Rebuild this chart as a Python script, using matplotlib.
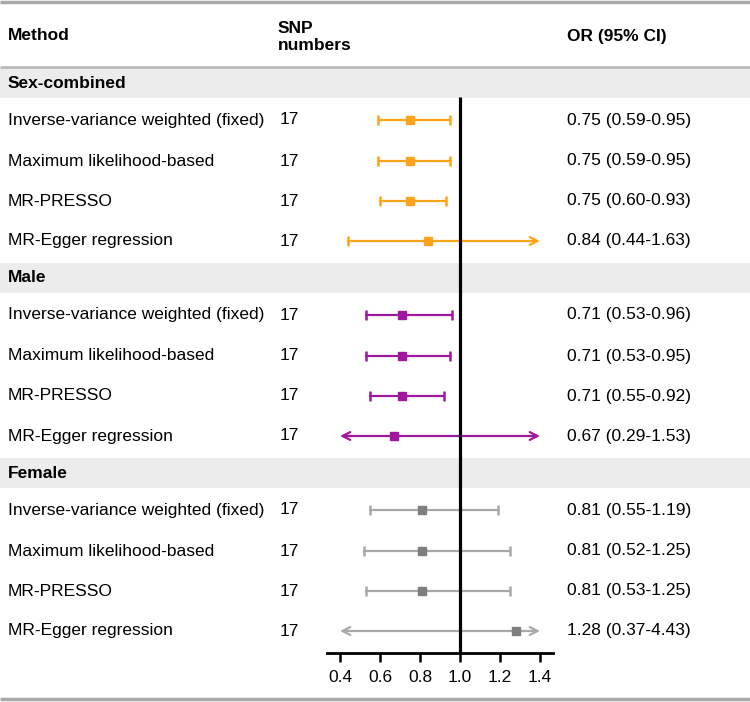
import matplotlib
matplotlib.use("Agg")
import matplotlib.pyplot as plt

plt.rcParams['font.family'] = ['Liberation Sans', 'DejaVu Sans']

groups = ["Sex-combined", "Male", "Female"]
methods = ["Inverse-variance weighted (fixed)", "Maximum likelihood-based",
           "MR-PRESSO", "MR-Egger regression"]
snp_numbers = [17, 17, 17, 17]
or_est = [[0.75, 0.75, 0.75, 0.84],
          [0.71, 0.71, 0.71, 0.67],
          [0.81, 0.81, 0.81, 1.28]]
ci_low = [[0.59, 0.59, 0.60, 0.44],
          [0.53, 0.53, 0.55, 0.29],
          [0.55, 0.52, 0.53, 0.37]]
ci_high = [[0.95, 0.95, 0.93, 1.63],
           [0.96, 0.95, 0.92, 1.53],
           [1.19, 1.25, 1.25, 4.43]]
group_line_colors = ["#FFA31A", "#A0179F", "#A8A8A8"]
group_marker_colors = ["#FFA31A", "#A0179F", "#7F7F7F"]
x_ticks = [0.4, 0.6, 0.8, 1.0, 1.2, 1.4]

W, H = 750, 702
fig = plt.figure(figsize=(W / 100, H / 100), dpi=100)

# overlay axes in pixel coordinates (text, bands, rules)
bg = fig.add_axes([0, 0, 1, 1])
bg.set_xlim(0, W)
bg.set_ylim(H, 0)
bg.axis('off')

# forest axes
ax_left, ax_right, ax_bottom_px = 327, 553, 653
ax = fig.add_axes([ax_left / W, (H - ax_bottom_px) / H, (ax_right - ax_left) / W, ax_bottom_px / H])
ax.set_facecolor('none')
ax.set_xlim(0.335, 1.465)
ax.set_ylim(ax_bottom_px, 0)

fs = 12.5
# rules
bg.plot([0, W], [2, 2], color='#A9A9A9', lw=2.5, solid_capstyle='butt')
bg.plot([0, W], [67, 67], color='#B5B5B5', lw=1.8, solid_capstyle='butt')
bg.plot([0, W], [698.5, 698.5], color='#A9A9A9', lw=2.5, solid_capstyle='butt')

# headers
bg.text(8, 36, "Method", fontsize=fs, fontweight='bold', va='center', ha='left')
bg.text(278, 37, "SNP\nnumbers", fontsize=fs, fontweight='bold', va='center', ha='left', linespacing=1.2)
bg.text(567, 36, "OR (95% CI)", fontsize=fs, fontweight='bold', va='center', ha='left')

group_top, group_pitch = 83, 195
row_offsets = [37, 78, 118, 158]
band_h = 30
lo_lim, hi_lim = 0.4, 1.4
for g, gname in enumerate(groups):
    yh = group_top + group_pitch * g
    bg.add_patch(plt.Rectangle((0, yh - band_h / 2), W, band_h, color='#ECECEC', lw=0, zorder=0))
    bg.text(8, yh, gname, fontsize=fs, fontweight='bold', va='center', ha='left')
    for m, meth in enumerate(methods):
        y = yh + row_offsets[m]
        bg.text(8, y, meth, fontsize=fs, va='center', ha='left')
        bg.text(280, y, str(snp_numbers[m]), fontsize=fs, va='center', ha='left')
        e, lo, hi = or_est[g][m], ci_low[g][m], ci_high[g][m]
        bg.text(567, y, f"{e:.2f} ({lo:.2f}-{hi:.2f})", fontsize=fs, va='center', ha='left')
        lc, mc = group_line_colors[g], group_marker_colors[g]
        left_arrow = lo < lo_lim
        right_arrow = hi > hi_lim
        xl = lo_lim if left_arrow else lo
        xr = hi_lim if right_arrow else hi
        style = {(True, True): '<->', (False, True): '->', (True, False): '<-', (False, False): '-'}[(left_arrow, right_arrow)]
        ax.annotate('', xy=(xr, y), xytext=(xl, y),
                    arrowprops=dict(arrowstyle=style, color=lc, lw=1.6, shrinkA=0, shrinkB=0,
                                    mutation_scale=14), zorder=3)
        if not left_arrow:
            ax.plot([xl, xl], [y - 5, y + 5], color=lc, lw=1.8, zorder=3, solid_capstyle='butt')
        if not right_arrow:
            ax.plot([xr, xr], [y - 5, y + 5], color=lc, lw=1.8, zorder=3, solid_capstyle='butt')
        ax.plot([e], [y], marker='s', ms=6, color=mc, mec=mc, zorder=4, linestyle='none')

# reference line at OR = 1
ax.plot([1.0, 1.0], [97, ax_bottom_px], color='black', lw=2.3, zorder=5, solid_capstyle='butt')

for s in ['top', 'right', 'left']:
    ax.spines[s].set_visible(False)
ax.spines['bottom'].set_linewidth(2.0)
ax.set_yticks([])
ax.set_xticks(x_ticks)
ax.set_xticklabels([f"{t:.1f}" for t in x_ticks])
ax.tick_params(axis='x', direction='out', length=6.5, width=1.8, labelsize=fs, pad=6)

fig.savefig("out.png", dpi=100)
